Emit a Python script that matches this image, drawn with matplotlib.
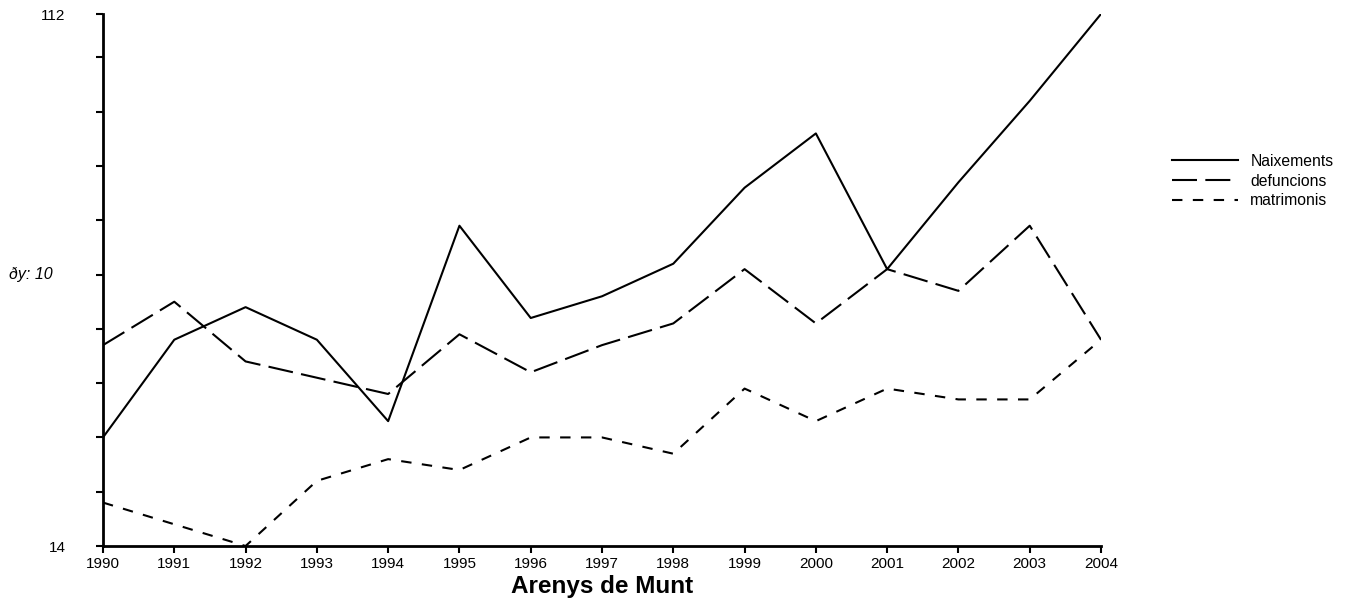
import matplotlib
matplotlib.use('Agg')
import matplotlib.pyplot as plt

plt.rcParams['font.family'] = ['Liberation Sans', 'DejaVu Sans']

years = list(range(1990, 2005))
naixements = [34, 52, 58, 52, 37, 73, 56, 60, 66, 80, 90, 65, 81, 96, 112]
defuncions = [51, 59, 48, 45, 42, 53, 46, 51, 55, 65, 55, 65, 61, 73, 52]
matrimonis = [22, 18, 14, 26, 30, 28, 34, 34, 31, 43, 37, 43, 41, 41, 52]
y_ticks = [14, 24, 34, 44, 54, 64, 74, 84, 94, 104, 112]

fig = plt.figure(figsize=(13.51, 6.10), dpi=100)
ax = fig.add_axes([103 / 1351, 64 / 610, 998 / 1351, 532 / 610])

ax.plot(years, naixements, color='black', lw=1.5, label='Naixements')
ax.plot(years, defuncions, color='black', lw=1.5, dashes=(12, 4), label='defuncions')
ax.plot(years, matrimonis, color='black', lw=1.5, dashes=(5, 5), label='matrimonis')

ax.set_xlim(1990, 2004)
ax.set_ylim(14, 112)
ax.set_xticks(years)
ax.set_xticklabels([str(y) for y in years], fontsize=11)
ax.set_yticks(y_ticks)
ax.set_yticklabels(['14'] + [''] * 9 + ['112'], fontsize=11)
ax.tick_params(axis='both', direction='out', length=5, width=1.5, pad=3)
ax.tick_params(axis='y', pad=22)

for s in ['top', 'right']:
    ax.spines[s].set_visible(False)
for s in ['left', 'bottom']:
    ax.spines[s].set_linewidth(2)

ax.set_xlabel('Arenys de Munt', fontsize=17.5, fontweight='bold', labelpad=3)
fig.text(9 / 1351, 1 - 275 / 610, 'ðy: 10', fontsize=11.5, style='italic', va='center', ha='left')

fig.legend(loc='upper left', bbox_to_anchor=(1164 / 1351, 1 - 146 / 610), frameon=False,
           fontsize=11.3, handlelength=4.2, labelspacing=0.3, handletextpad=0.8, borderpad=0)

fig.savefig('out.png', dpi=100, facecolor='white')
